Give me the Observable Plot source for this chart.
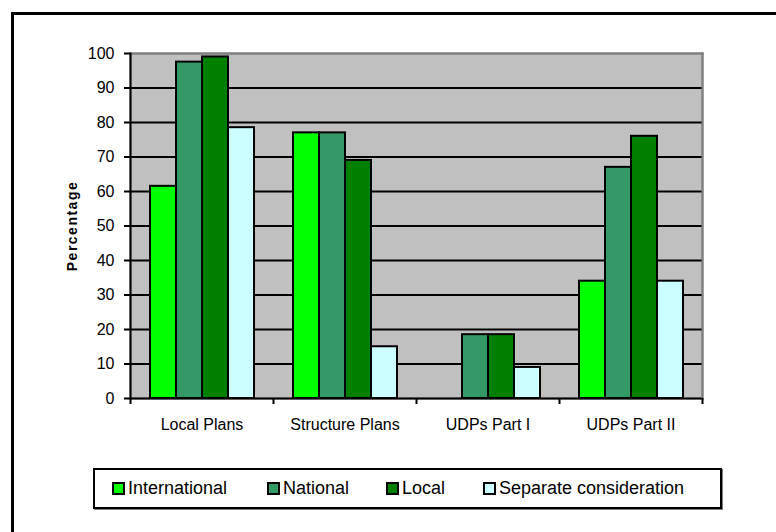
<!DOCTYPE html>
<html>
<head>
<meta charset="utf-8">
<script src="https://cdn.jsdelivr.net/npm/d3@7"></script>
<script src="https://cdn.jsdelivr.net/npm/@observablehq/plot@0.6"></script>
<style>
  html, body { margin: 0; padding: 0; background: #fff; }
  body { position: relative; width: 776px; height: 532px; overflow: hidden; font-family: "Liberation Sans", Arial, sans-serif; }
  #outer { position: absolute; left: 11px; top: 12px; width: 900px; height: 700px; border-left: 3px solid #000; border-top: 3px solid #000; box-sizing: border-box; }
  #chart { position: absolute; left: 0; top: 0; }
  #legend { position: absolute; left: 93px; top: 468px; width: 629px; height: 41px; box-sizing: border-box;
            border: 2px solid #000; box-shadow: 1px 1px 0 #808080; background: #fff; font-size: 18px; color: #000; }
  .item { position: absolute; top: 0; height: 37px; display: flex; align-items: center; white-space: nowrap; }
  .sw { width: 13px; height: 13px; box-sizing: border-box; border: 2px solid #000; margin-right: 3px; }
  #chart g[aria-label="text"] text { letter-spacing: 1.5px; }
</style>
</head>
<body>
<div id="outer"></div>
<div id="chart"></div>
<div id="legend"></div>
<script>
const categories = ["Local Plans", "Structure Plans", "UDPs Part I", "UDPs Part II"];
const series = ["International", "National", "Local", "Separate consideration"];
const international = [61.5, 77, null, 34];
const national = [97.5, 77, 18.5, 67];
const local = [99, 69, 18.5, 76];
const separate = [78.5, 15, 9, 34];
const colors = ["#00FF00", "#339966", "#008000", "#CCFFFF"];
const yTicks = [0, 10, 20, 30, 40, 50, 60, 70, 80, 90, 100];
const gridTicks = [10, 20, 30, 40, 50, 60, 70, 80, 90];
const legendOffsets = [17, 172, 291, 388];

const legend = document.getElementById("legend");
series.forEach((s, i) => {
  const item = document.createElement("div");
  item.className = "item";
  item.style.left = legendOffsets[i] + "px";
  const sw = document.createElement("div");
  sw.className = "sw";
  sw.style.background = colors[i];
  const t = document.createElement("span");
  t.textContent = s;
  item.appendChild(sw);
  item.appendChild(t);
  legend.appendChild(item);
});

const seriesValues = [international, national, local, separate];
const data = [];
categories.forEach((c, i) => {
  series.forEach((s, j) => {
    const v = seriesValues[j][i];
    if (v != null) data.push({category: c, series: s, value: v});
  });
});

const chart = Plot.plot({
  width: 776,
  height: 448,
  marginLeft: 130,
  marginRight: 74,
  marginTop: 53,
  marginBottom: 50,
  style: {fontFamily: "'Liberation Sans', Arial, sans-serif", fontSize: "16px", color: "#000", background: "transparent"},
  fx: {domain: categories, padding: 0, label: null},
  x: {domain: series, paddingInner: 0, paddingOuter: 0.7, axis: null},
  y: {domain: [0, 100], label: null},
  color: {domain: series, range: colors},
  marks: [
    Plot.frame({facet: "super", fill: "#C0C0C0", stroke: "#808080", strokeWidth: 2}),
    Plot.ruleY(gridTicks, {stroke: "#000", strokeWidth: 2}),
    Plot.barY(data, {fx: "category", x: "series", y: "value", fill: "series", stroke: "#000", strokeWidth: 2}),
    Plot.ruleY([0], {stroke: "#000", strokeWidth: 2}),
    Plot.frame({facet: "super", anchor: "top", stroke: "#808080", strokeWidth: 2}),
    Plot.frame({facet: "super", anchor: "right", stroke: "#808080", strokeWidth: 2}),
    Plot.frame({facet: "super", anchor: "left", stroke: "#000", strokeWidth: 2}),
    Plot.axisY({ticks: yTicks, tickSize: 6, tickPadding: 10, strokeWidth: 2, label: null, fontSize: 16}),
    Plot.text(["Percentage"], {facet: "super", frameAnchor: "left", textAnchor: "middle", dx: -58, rotate: -90, fontWeight: "bold", fontSize: 14}),
    Plot.axisFx({anchor: "bottom", tickSize: 0, tickPadding: 20, label: null, fontSize: 16}),
    Plot.axisFx({anchor: "bottom", tickSize: 6, strokeWidth: 2, dx: -71.5, tickFormat: () => "", label: null}),
    Plot.axisFx({anchor: "bottom", ticks: [categories[3]], tickSize: 6, strokeWidth: 2, dx: 71.5, tickFormat: () => "", label: null})
  ]
});
document.getElementById("chart").appendChild(chart);
</script>
</body>
</html>
